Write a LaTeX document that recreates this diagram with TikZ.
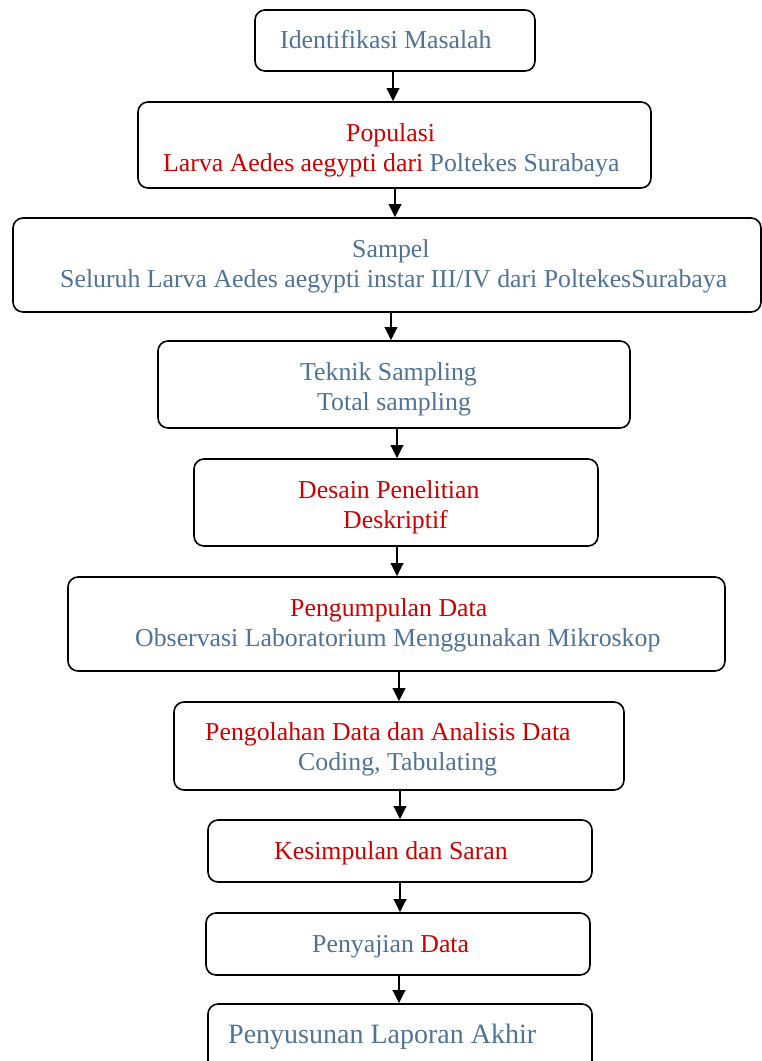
\documentclass[tikz,border=0pt]{standalone}
\usepackage{fontspec}
\setmainfont{Liberation Serif}
\usetikzlibrary{arrows.meta}
\definecolor{tblue}{RGB}{79,115,150}
\definecolor{tred}{RGB}{204,0,0}
\begin{document}
\begin{tikzpicture}[x=1pt,y=-1pt,
  box/.style={draw,line width=1.6pt,rounded corners=10pt,inner sep=0pt},
  txt/.style={anchor=base west,inner sep=0pt,font=\fontsize{25.8}{30}\selectfont},
  bigtxt/.style={anchor=base west,inner sep=0pt,font=\fontsize{28}{32}\selectfont},
  arr/.style={-{Triangle[length=13pt,width=12.5pt]},line width=2pt}]
\useasboundingbox (0,0) rectangle (762,1061);
\clip (0,0) rectangle (762,1061);
% boxes
\node[box,minimum width=280pt,minimum height=61pt] (b1) at (395,40.5) {};
\node[box,minimum width=513pt,minimum height=86pt] (b2) at (394.5,145) {};
\node[box,minimum width=748pt,minimum height=94pt] (b3) at (387,265) {};
\node[box,minimum width=472pt,minimum height=87pt] (b4) at (394,384.5) {};
\node[box,minimum width=404pt,minimum height=87pt] (b5) at (396,502.5) {};
\node[box,minimum width=657pt,minimum height=94pt] (b6) at (396.5,624) {};
\node[box,minimum width=450pt,minimum height=88pt] (b7) at (399,746) {};
\node[box,minimum width=384pt,minimum height=62pt] (b8) at (400,851) {};
\node[box,minimum width=384pt,minimum height=62pt] (b9) at (398,944) {};
\node[box,minimum width=384pt,minimum height=71pt] (b10) at (400,1039.5) {};
% texts
\node[txt,text=tblue] (t1) at (280,48) {Identifikasi Masalah};
\node[txt,text=tred] (t2a) at (346,141) {Populasi};
\node[txt] (t2b) at (163,171) {\textcolor{tred}{Larva Aedes aegypti dari} \textcolor{tblue}{Poltekes Surabaya}};
\node[txt,text=tblue] (t3a) at (352,257) {Sampel};
\node[txt,text=tblue] (t3b) at (60,287) {Seluruh Larva Aedes aegypti instar III/IV dari PoltekesSurabaya};
\node[txt,text=tblue] (t4a) at (300,380) {Teknik Sampling};
\node[txt,text=tblue] (t4b) at (317,410) {Total sampling};
\node[txt,text=tred] (t5a) at (298,498) {Desain Penelitian};
\node[txt,text=tred] (t5b) at (343,528) {Deskriptif};
\node[txt,text=tred] (t6a) at (290,616) {Pengumpulan Data};
\node[txt,text=tblue] (t6b) at (135,646) {Observasi Laboratorium Menggunakan Mikroskop};
\node[txt,text=tred] (t7a) at (205,740) {Pengolahan Data dan Analisis Data};
\node[txt,text=tblue] (t7b) at (298,770) {Coding, Tabulating};
\node[txt,text=tred] (t8) at (274,859) {Kesimpulan dan Saran};
\node[txt] (t9) at (312,952) {\textcolor{tblue}{Penyajian} \textcolor{tred}{Data}};
\node[bigtxt,text=tblue] (t10) at (228,1043) {Penyusunan Laporan Akhir};
% arrows
\draw[arr] (b1.south -| 393,0) -- (b2.north -| 393,0);
\draw[arr] (b2.south -| 395,0) -- (b3.north -| 395,0);
\draw[arr] (b3.south -| 391,0) -- (b4.north -| 391,0);
\draw[arr] (b4.south -| 397,0) -- (b5.north -| 397,0);
\draw[arr] (b5.south -| 397,0) -- (b6.north -| 397,0);
\draw[arr] (b6.south -| 399,0) -- (b7.north -| 399,0);
\draw[arr] (b7.south -| 400,0) -- (b8.north -| 400,0);
\draw[arr] (b8.south -| 400,0) -- (b9.north -| 400,0);
\draw[arr] (b9.south -| 399,0) -- (b10.north -| 399,0);
\end{tikzpicture}
\end{document}
